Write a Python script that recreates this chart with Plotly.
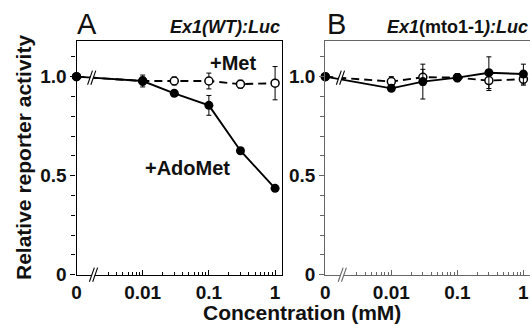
import plotly.graph_objects as go

# ---------------- data ----------------
conc = [0.001, 0.01, 0.03, 0.1, 0.3, 1.0]   # 0.001 plotted as "0"
x_tickvals = [0.001, 0.01, 0.1, 1]
x_ticktext = ["0", "0.01", "0.1", "1"]
y_tickvals = [0, 0.5, 1.0]
y_ticktext = ["0", "0.5", "1.0"]

a_met = [1.0, 0.978, 0.978, 0.978, 0.962, 0.967]
a_met_err = [0, 0.02, 0.02, 0.04, 0.02, 0.084]
a_ado = [1.0, 0.978, 0.916, 0.855, 0.626, 0.436]
a_ado_err = [0, 0.03, 0.0, 0.05, 0.0, 0.0]

b_met = [1.0, 0.975, 0.997, 0.995, 0.98, 0.987]
b_met_err = [0, 0.025, 0.04, 0.02, 0.05, 0.03]
b_ado = [1.0, 0.941, 0.975, 0.995, 1.02, 1.013]
b_ado_err = [0, 0.0, 0.088, 0.02, 0.08, 0.05]

W, H = 530, 326
FONT = "Liberation Sans"

fig = go.Figure()

def add_panel(xa, ya, met, met_err, ado, ado_err):
    fig.add_trace(go.Scatter(
        x=conc, y=met, xaxis=xa, yaxis=ya, mode="lines+markers",
        line=dict(color="black", width=1.9, dash="8px,5px"),
        marker=dict(symbol="circle", size=8, color="white",
                    line=dict(color="black", width=1.5)),
        error_y=dict(type="data", array=met_err, color="black",
                     thickness=1, width=2.5),
        cliponaxis=False, showlegend=False))
    fig.add_trace(go.Scatter(
        x=conc, y=ado, xaxis=xa, yaxis=ya, mode="lines+markers",
        line=dict(color="black", width=1.9),
        marker=dict(symbol="circle", size=9, color="black"),
        error_y=dict(type="data", array=ado_err, color="black",
                     thickness=1, width=2.5),
        cliponaxis=False, showlegend=False))

add_panel("x", "y", a_met, a_met_err, a_ado, a_ado_err)
add_panel("x2", "y2", b_met, b_met_err, b_ado, b_ado_err)

minor_x = [m * d for d in (0.001, 0.01, 0.1) for m in range(2, 10) if m * d >= 0.003]
minor_y = [i / 10 for i in range(0, 12)]

def xaxis(domain, color):
    return dict(
        type="log", range=[-3, 0.1], domain=domain, automargin=False,
        tickmode="array", tickvals=x_tickvals, ticktext=x_ticktext,
        ticks="inside", ticklen=5, tickwidth=1.2, tickcolor=color,
        showline=True, linecolor=color, linewidth=1.3, mirror=True,
        showgrid=False, zeroline=False,
        tickfont=dict(family=FONT, size=19, color="#111", weight="bold"),
        minor=dict(tickmode="array", tickvals=minor_x, ticks="inside",
                   ticklen=3, tickwidth=1, tickcolor=color, showgrid=False),
    )

def yaxis(anchor, color, mirror):
    return dict(
        range=[0, 1.18], domain=[1 - 274.7 / H, 1 - 41 / H], anchor=anchor,
        automargin=False,
        tickmode="array", tickvals=y_tickvals, ticktext=y_ticktext,
        ticks="outside", ticklen=5, tickwidth=1.2, tickcolor=color,
        showline=True, linecolor=color, linewidth=1.3, mirror=mirror,
        showgrid=False, zeroline=False,
        tickfont=dict(family=FONT, size=19, color="#111", weight="bold"),
        minor=dict(tickmode="array", tickvals=minor_y, ticks="outside",
                   ticklen=4, tickwidth=1, tickcolor=color, showgrid=False),
    )

xa = xaxis([76.5 / W, 281.7 / W], "black")
xa["anchor"] = "y"
xb = xaxis([325.3 / W, 1.0], "#666")
xb["anchor"] = "y2"
fig.update_layout(
    width=W, height=H, margin=dict(l=0, r=0, t=0, b=0, autoexpand=False),
    paper_bgcolor="white", plot_bgcolor="white",
    xaxis=xa, xaxis2=xb,
    yaxis=yaxis("x", "black", True),
    yaxis2=yaxis("x2", "#666", False),
)

# axis / line breaks "//"
def brk(xref, yref, xf, yval, color):
    dx, dy = 0.012, 0.03
    g = 0.016
    fig.add_shape(type="path", xref=xref, yref=yref,
                  path=f"M {xf-dx} {yval-dy} L {xf+dx} {yval+dy} L {xf+dx+g} {yval+dy} L {xf-dx+g} {yval-dy} Z",
                  fillcolor="white", line=dict(width=0), layer="above")
    for off in (0, g):
        fig.add_shape(type="line", xref=xref, yref=yref,
                      x0=xf - dx + off, y0=yval - dy, x1=xf + dx + off, y1=yval + dy,
                      line=dict(color=color, width=1.1), layer="above")

brk("x domain", "y domain", 0.075, 0.0, "black")
brk("x2 domain", "y2 domain", 0.075, 0.0, "#666")
brk("x domain", "y domain", 0.066, 0.843, "black")
brk("x2 domain", "y2 domain", 0.066, 0.843, "black")

def ann(text, px, py, size, xanchor="center", angle=0, family=FONT):
    fig.add_annotation(text=text, x=px / W, y=1 - py / H, xref="paper", yref="paper",
                       xanchor=xanchor, yanchor="middle", showarrow=False, textangle=angle,
                       font=dict(family=family, size=size, color="#111"))

ann("A", 87, 24, 29)
ann("B", 336, 24, 29)
ann("<b><i>Ex1(WT):Luc</i></b>", 282, 27, 18, xanchor="right")
ann("<b><i>Ex1</i>(mto1-1<i>):Luc</i></b>", 530, 27, 18, xanchor="right")
ann("<b>+Met</b>", 233, 63, 20)
ann("<b>+AdoMet</b>", 187, 168, 20)
ann("<b>Relative reporter activity</b>", 23, 158, 21, angle=-90)
ann("<b>Concentration (mM)</b>", 302, 312, 21)

fig.write_html("out.html", config={"displayModeBar": False},
               post_script="document.body.style.margin='0';document.body.style.overflow='hidden';")
